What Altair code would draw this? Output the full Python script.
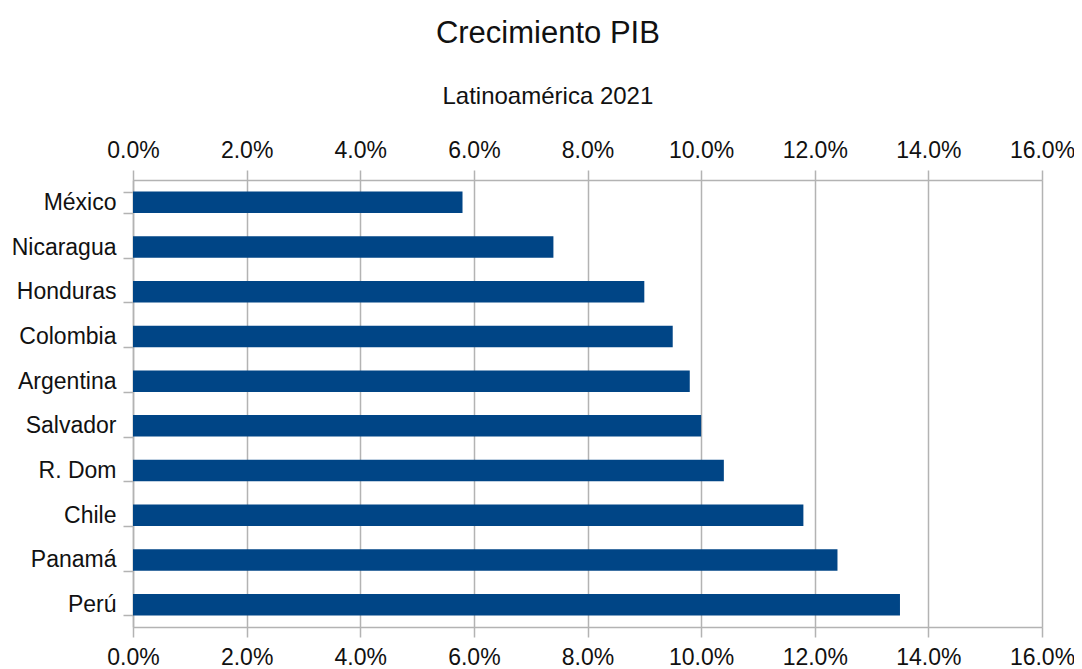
import altair as alt
import pandas as pd

countries = ["México", "Nicaragua", "Honduras", "Colombia", "Argentina",
             "Salvador", "R. Dom", "Chile", "Panamá", "Perú"]
growth = [0.058, 0.074, 0.090, 0.095, 0.098, 0.100, 0.104, 0.118, 0.124, 0.135]

df = pd.DataFrame({"pais": countries, "crecimiento": growth})

FONT = "Liberation Sans"
GRID = "#b3b3b3"
TXT = "#111111"

y_enc = alt.Y("pais:N", sort=countries, title=None,
              scale=alt.Scale(paddingInner=0.52, paddingOuter=0.26),
              axis=alt.Axis(labelFont=FONT, labelFontSize=23, labelColor=TXT,
                            labelPadding=7, tickSize=10, tickColor=GRID, tickWidth=1.5,
                            tickBand="extent", domainColor=GRID, domainWidth=1.5,
                            grid=False))

xscale = alt.Scale(domain=[0, 0.16], nice=False)
xticks = [0, 0.02, 0.04, 0.06, 0.08, 0.10, 0.12, 0.14, 0.16]

bars = alt.Chart(df).mark_bar(color="#004586").encode(
    x=alt.X("crecimiento:Q", scale=xscale, title=None,
            axis=alt.Axis(orient="bottom", format=".1%", values=xticks,
                          labelFont=FONT, labelFontSize=23, labelColor=TXT,
                          labelPadding=9, tickSize=10, tickColor=GRID, tickWidth=1.5,
                          domainColor=GRID, domainWidth=1.5,
                          grid=True, gridColor=GRID, gridWidth=1.5, labelFlush=False)),
    y=y_enc,
)

top = alt.Chart(df).mark_bar(opacity=0).encode(
    x=alt.X("crecimiento:Q", scale=xscale, title=None,
            axis=alt.Axis(orient="top", format=".1%", values=xticks,
                          labelFont=FONT, labelFontSize=23, labelColor=TXT,
                          labelPadding=8, tickSize=10, tickColor=GRID, tickWidth=1.5,
                          domain=True, domainColor=GRID, domainWidth=1.5,
                          grid=False, labelFlush=False)),
    y=y_enc,
)

chart = alt.layer(bars, top).resolve_axis(x="independent").properties(
    width=909,
    height=447,
    autosize=alt.AutoSizeParams(type="none"),
    padding={"left": 125, "top": 172, "right": 32, "bottom": 50},
    title=alt.Title("Crecimiento PIB", subtitle="Latinoamérica 2021",
                    font=FONT, fontSize=31, fontWeight="normal", color=TXT,
                    subtitleFont=FONT, subtitleFontSize=24, subtitleColor=TXT,
                    subtitlePadding=35, anchor="middle", frame="bounds", offset=29, dx=5),
).configure_view(stroke="transparent", strokeWidth=0).configure(background="white")

chart.save("out.html", embed_options={"renderer": "svg", "actions": False})
